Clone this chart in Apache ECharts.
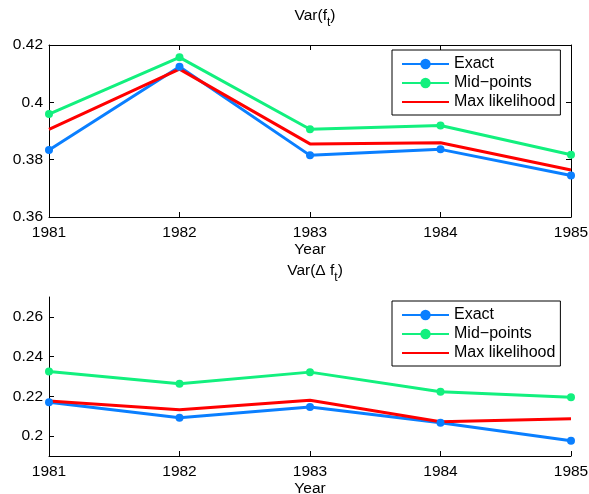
<!DOCTYPE html>
<html><head><meta charset="utf-8">
<script src="https://cdn.jsdelivr.net/npm/echarts@6/dist/echarts.min.js"></script>
<style>html,body{margin:0;padding:0;background:#fff}#c{width:589px;height:494px}</style>
</head><body><div id="c"></div>
<script>
const years = ['1981','1982','1983','1984','1985'];
const seriesNames = ['Exact','Mid\u2212points','Max likelihood'];
// Var(f_t)
const varExact = [0.3834, 0.4124, 0.3815, 0.3836, 0.3745];
const varMid   = [0.3959, 0.4157, 0.3906, 0.3919, 0.3817];
const varMax   = [0.3906, 0.4116, 0.3855, 0.3859, 0.3764];
// Var(Δ f_t)
const dExact = [0.2170, 0.2092, 0.2147, 0.2067, 0.1977];
const dMid   = [0.2325, 0.2263, 0.2322, 0.2223, 0.2195];
const dMax   = [0.2177, 0.2133, 0.2180, 0.2072, 0.2088];
const topTicks = [0.36, 0.38, 0.40, 0.42];
const botTicks = [0.20, 0.22, 0.24, 0.26];

const colors = ['#0a7fff', '#12f07e', '#ff0000'];
const FONT = 'Liberation Sans, Arial, sans-serif';
const FS = 15.5;
const black = '#000';

const chart = echarts.init(document.getElementById('c'), null, {renderer: 'canvas'});

function xAx(grid, pos, withLabel) {
  return {
    type: 'category', data: years, gridIndex: grid, position: pos, boundaryGap: false,
    axisLine: {show: true, lineStyle: {color: black, width: 1}},
    axisTick: {show: true, inside: true, length: 5, lineStyle: {color: black}},
    axisLabel: {show: withLabel, color: black, fontSize: FS, fontFamily: FONT, margin: 8},
    splitLine: {show: false},
    name: withLabel ? 'Year' : '', nameLocation: 'middle', nameGap: 24,
    nameTextStyle: {color: black, fontSize: FS, fontFamily: FONT}
  };
}
function yAx(grid, pos, min, max, ticks, withLabel) {
  return {
    type: 'value', gridIndex: grid, position: pos, min: min, max: max,
    axisLine: {show: true, lineStyle: {color: black, width: 1}},
    axisTick: {show: true, inside: true, length: 5, lineStyle: {color: black}, customValues: ticks},
    axisLabel: {show: withLabel, color: black, fontSize: FS, fontFamily: FONT, margin: 6, customValues: ticks,
      formatter: v => String(+v.toFixed(4))},
    splitLine: {show: false}
  };
}

function line(name, data, color, xi, yi, sym) {
  return {
    type: 'line', name: name, data: data, xAxisIndex: xi, yAxisIndex: yi,
    symbol: sym ? 'circle' : 'none', symbolSize: 8, showSymbol: sym,
    lineStyle: {color: color, width: 3}, itemStyle: {color: color},
    emphasis: {disabled: true}, animation: false, z: 3
  };
}

const legendBase = {
  data: [{name: seriesNames[0]}, {name: seriesNames[1]}, {name: seriesNames[2], itemStyle: {opacity: 0}}],
  orient: 'vertical', left: 392,
  itemWidth: 47, itemHeight: 13, itemGap: 3,
  padding: [6, 5, 5, 9],
  borderColor: black, borderWidth: 1, backgroundColor: '#fff',
  textStyle: {color: black, fontSize: FS + 0.5, fontFamily: FONT, lineHeight: 13, padding: [0,0,0,0]},
  selectedMode: false
};

const titleRich = {
  n: {fontSize: FS, fontFamily: FONT, fontWeight: 'normal', color: black, lineHeight: 20, verticalAlign: 'bottom'},
  s: {fontSize: FS - 3.5, fontFamily: FONT, fontWeight: 'normal', color: black, lineHeight: 20, verticalAlign: 'bottom', padding: [0,0,-5,0]}
};

chart.setOption({
  animation: false,
  backgroundColor: '#fff',
  title: [
    {text: '{n|Var(f}{s|t}{n|)}', left: 310, top: -1, textAlign: 'center', textStyle: {fontWeight: 'normal', rich: titleRich}},
    {text: '{n|Var(\u0394 f}{s|t}{n|)}', left: 310, top: 254, textAlign: 'center', textStyle: {fontWeight: 'normal', rich: titleRich}}
  ],
  grid: [
    {left: 49, right: 18, top: 45, height: 172, outerBoundsMode: 'none', containLabel: false},
    {left: 49, right: 18, top: 297, height: 159, outerBoundsMode: 'none', containLabel: false}
  ],
  legend: [
    Object.assign({}, legendBase, {top: 50}),
    Object.assign({}, legendBase, {top: 301})
  ],
  xAxis: [
    xAx(0, 'bottom', true),
    xAx(0, 'top', false),
    xAx(1, 'bottom', true)
  ],
  yAxis: [
    yAx(0, 'left', 0.36, 0.42, topTicks, true),
    yAx(0, 'right', 0.36, 0.42, topTicks, false),
    yAx(1, 'left', 0.19, 0.27, botTicks, true)
  ],
  series: [
    line(seriesNames[0], varExact, colors[0], 0, 0, true),
    line(seriesNames[1], varMid, colors[1], 0, 0, true),
    line(seriesNames[2], varMax, colors[2], 0, 0, false),
    line(seriesNames[0], dExact, colors[0], 2, 2, true),
    line(seriesNames[1], dMid, colors[1], 2, 2, true),
    line(seriesNames[2], dMax, colors[2], 2, 2, false)
  ]
});
</script></body></html>
